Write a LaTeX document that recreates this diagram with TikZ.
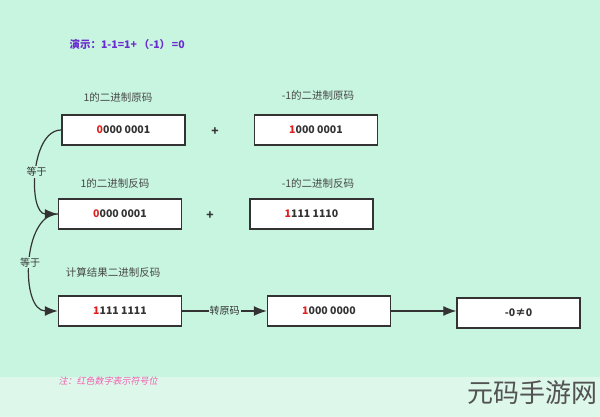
\documentclass[tikz,border=0pt]{standalone}
\usepackage{fontspec}
\setmainfont{Noto Sans CJK SC}
\newfontfamily\notefont[FakeSlant=0.2]{Noto Sans CJK SC}
\usetikzlibrary{arrows.meta}
\definecolor{bg}{HTML}{C8F5E0}
\definecolor{bgb}{HTML}{DDF7EA}
\definecolor{dk}{HTML}{333333}
\definecolor{sgn}{HTML}{E02020}
\definecolor{ttl}{HTML}{6A2BD0}
\definecolor{note}{HTML}{F060B0}
\tikzset{
  x=1pt, y=-1pt,
  box/.style={draw=dk, line width=1.4pt, fill=white, minimum width=123pt, minimum height=30pt, inner sep=0pt, font=\fontsize{10.5}{12}\selectfont\bfseries, text=dk},
  lbl/.style={font=\fontsize{10.5}{12}\selectfont, text=dk!90},
  plus/.style={font=\fontsize{12}{14}\selectfont\bfseries, text=dk},
  conn/.style={draw=dk, line width=1.2pt, -{Latex[length=13pt,width=10pt]}},
  eq/.style={font=\fontsize{10}{12}\selectfont, text=dk, fill=bg, inner sep=1pt}
}
\begin{document}
\begin{tikzpicture}
\fill[bg] (0,0) rectangle (600,377);
\fill[bgb] (0,377) rectangle (600,417);
\useasboundingbox (0,0) rectangle (600,417);
\node[anchor=west, font=\fontsize{10.5}{12}\selectfont\bfseries, text=ttl] (title) at (66,44) {演示：1-1=1+\,（-1）\,=0};
\node[lbl] (l1) at (118,97) {1的二进制原码};
\node[box] (b1) at (123.5,130) {\textcolor{sgn}{0}000 0001};
\node[plus] (p1) at (215,132) {+};
\node[lbl] (l2) at (318,95) {-1的二进制原码};
\node[box] (b2) at (316,130) {\textcolor{sgn}{1}000 0001};
\node[lbl] (l3) at (115,184) {1的二进制反码};
\node[box] (b3) at (120,214) {\textcolor{sgn}{0}000 0001};
\node[plus] (p2) at (210,216) {+};
\node[lbl] (l4) at (318,184) {-1的二进制反码};
\node[box] (b4) at (311.5,214) {\textcolor{sgn}{1}111 1110};
\node[lbl] (l5) at (113,272) {计算结果二进制反码};
\node[box] (b5) at (120,311) {\textcolor{sgn}{1}111 1111};
\node[box] (b6) at (329,311) {\textcolor{sgn}{1}000 0000};
\node[box] (b7) at (518.5,313) {-0≠0};
\draw[conn] (b1.west) .. controls (30,130) and (28,214) .. (b3.west) node[pos=0.5, eq] {等于};
\draw[conn] (b3.west) .. controls (22,214) and (20,311) .. (b5.west) node[pos=0.5, eq] {等于};
\draw[conn] (b5.east) -- (b6.west) node[midway, eq] {转原码};
\draw[conn] (b6.east) -- (b7.west |- b6.east);
\node[anchor=west, font=\fontsize{9}{10}\selectfont\notefont, text=note] (nt) at (55,381) {注：红色数字表示符号位};
\node[anchor=east, font=\fontsize{26}{28}\selectfont, text=dk!85] (wm) at (601,393) {元码手游网};
\end{tikzpicture}
\end{document}
